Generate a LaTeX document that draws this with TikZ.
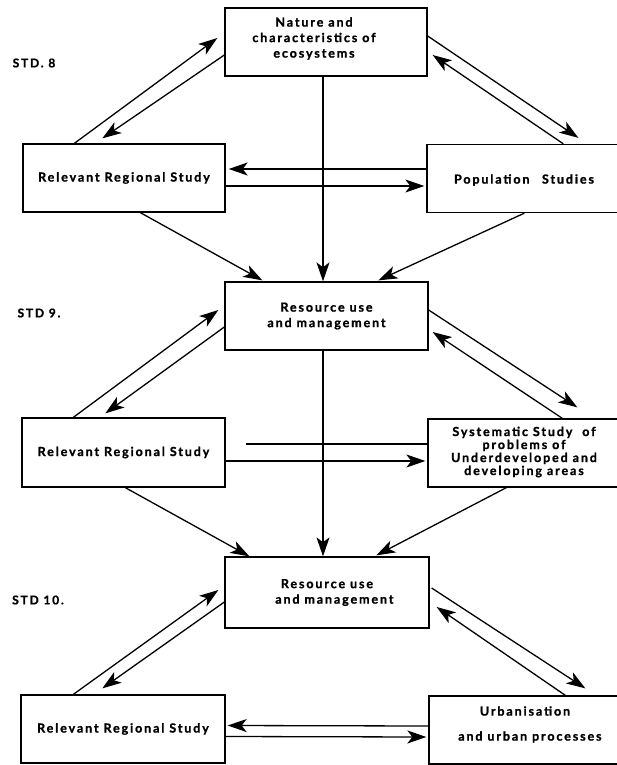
\documentclass[tikz,border=0pt]{standalone}
\usepackage{fontspec}
\setmainfont{Lato}[LetterSpace=15, BoldFeatures={FakeBold=1.2}]
\usetikzlibrary{arrows.meta,calc}

\tikzset{
  box/.style={draw, line width=1.3pt, minimum width=202pt, minimum height=68pt,
    align=center, inner sep=2pt},
  rbox/.style={draw, line width=1.3pt, minimum width=323pt, minimum height=68pt},
  txt/.style={align=center, font=\bfseries\fontsize{12.5}{15.5}\selectfont},
  std/.style={font=\bfseries\fontsize{12}{14}\selectfont},
  arr/.style={line width=1.3pt, -{Stealth[length=19pt,width=13pt,inset=5pt]}},
  ln/.style={line width=1.3pt}
}

\begin{document}
\begin{tikzpicture}[x=1pt,y=-1pt]
    \useasboundingbox (0,0) rectangle (616,765);
    % labels
    \node[std] (std8) at (34,63) {STD. 8};
    \node[std] (std9) at (39,313) {STD 9.};
    \node[std] (std10) at (38,600) {STD 10.};
    % boxes
    \node[box] (nat) at (326,42) {};
    \node[txt] (natt) at (314,38.5) {Nature and\\characteristics of\\ecosystems};
    \node[box,txt] (reg1) at (124,178) {Relevant Regional Study};
    \node[rbox] (pop) at (588.5,178.5) {};
    \node[txt] (popt) at (524,180) {Population\quad Studies};
    \node[box,txt,minimum width=203pt] (res1) at (326.5,316) {Resource use\\and management};
    \node[box,txt,minimum width=203pt,minimum height=69pt] (reg2) at (123.5,452.5) {Relevant Regional Study};
    \node[rbox] (sys) at (589.5,453) {};
    \node[txt,font=\bfseries\fontsize{12.5}{13}\selectfont] (syst) at (524,452)
      {Systematic Study\ \ of\\problems of\\Underdeveloped and\\developing areas};
    \node[box,txt,minimum width=204pt,minimum height=71pt] (res2) at (327,592.5) {Resource use\\\ \ \ and management};
    \node[box,txt,minimum width=204pt] (reg3) at (123,729) {Relevant Regional Study};
    \node[rbox] (urb) at (590.5,730) {};
    \node[txt,font=\bfseries\fontsize{12.5}{25}\selectfont] (urbt) at (525,724.5) {Urbanisation\\\ \ and urban processes};
    % STD 8 arrows
    \draw[arr] ($(reg1.north west)+(52,0)$) -- ($(nat.west)+(-7,-4)$);
    \draw[arr] ($(nat.west)+(0,13)$) -- ($(reg1.north west)+(80,-5)$);
    \draw[arr] ($(nat.east)+(0,-6)$) -- ($(pop.north west)+(152,-6)$);
    \draw[arr] ($(pop.north west)+(137,0)$) -- ($(nat.east)+(5,13)$);
    \draw[arr] ($(pop.west)+(0,-9.5)$) -- ($(reg1.east)+(3,-9)$);
    \draw[arr] ($(reg1.east)+(0,8)$) -- ($(pop.west)+(-2,7.5)$);
    \draw[arr] ($(nat.south)+(-3,0)$) -- ($(res1.north)+(-3.5,0)$);
    \draw[arr] ($(reg1.south west)+(118,0)$) -- ($(res1.north west)+(38,-1)$);
    \draw[arr] ($(pop.south west)+(98,0)$) -- ($(res1.north west)+(154,-1)$);
    % STD 9 arrows
    \draw[arr] ($(reg2.north west)+(52,0)$) -- ($(res1.west)+(-6,-6)$);
    \draw[arr] ($(res1.west)+(0,11)$) -- ($(reg2.north west)+(84,-4)$);
    \draw[arr] ($(res1.east)+(0,-6)$) -- ($(sys.north west)+(150,-11)$);
    \draw[arr] ($(sys.north west)+(135,0)$) -- ($(res1.east)+(4,16)$);
    \draw[ln] ($(sys.west)+(0,-9)$) -- ($(reg2.east)+(20,-8.5)$);
    \draw[arr] ($(reg2.east)+(0,8.5)$) -- ($(sys.west)+(-2,8)$);
    \draw[arr] ($(res1.south)+(-3.5,0)$) -- ($(res2.north)+(-4,0)$);
    \draw[arr] ($(reg2.south west)+(104,0)$) -- ($(res2.north west)+(25,0)$);
    \draw[arr] ($(sys.south west)+(79,0)$) -- ($(res2.north west)+(152,-1)$);
    % STD 10 arrows
    \draw[arr] ($(reg3.north west)+(53,0)$) -- ($(res2.west)+(-6,-2.5)$);
    \draw[arr] ($(res2.west)+(0,9.5)$) -- ($(reg3.north west)+(82,-6)$);
    \draw[arr] ($(res2.east)+(2,-4.5)$) -- ($(urb.north west)+(157,-7)$);
    \draw[arr] ($(urb.north west)+(137,0)$) -- ($(res2.east)+(7,14.5)$);
    \draw[arr] ($(urb.west)+(0,-4)$) -- ($(reg3.east)+(2,-3.5)$);
    \draw[arr] ($(reg3.east)+(0,7.5)$) -- ($(urb.west)+(-2,7)$);
\end{tikzpicture}
\end{document}
